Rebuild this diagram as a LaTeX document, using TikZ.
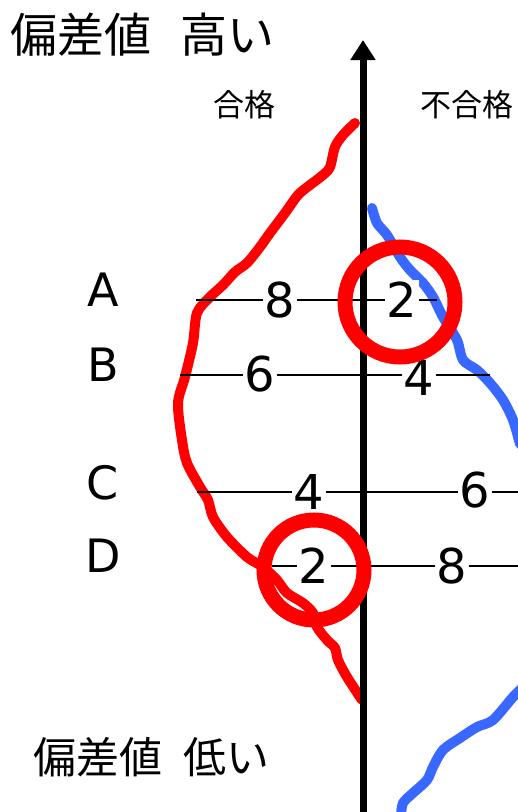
\documentclass[tikz,border=0pt]{standalone}
\usepackage{fontspec}
\setmainfont{DejaVu Sans}
\newfontfamily\jpfont{Noto Sans CJK JP}
\usetikzlibrary{arrows.meta}

\definecolor{penred}{RGB}{255,0,0}
\definecolor{penblue}{RGB}{56,104,255}

\tikzset{
  redpen/.style={penred, line width=10pt, line cap=round, line join=round},
  bluepen/.style={penblue, line width=10pt, line cap=round, line join=round},
  rowline/.style={line width=1.5pt},
  digit/.style={fill=white, inner sep=2pt, font=\fontsize{48}{48}\selectfont},
  rowlabel/.style={inner sep=0pt, font=\fontsize{46}{46}\selectfont},
  hitcircle/.style={draw=penred, line width=15pt},
}

\begin{document}
\begin{tikzpicture}[x=1pt, y=-1pt]
    \useasboundingbox (0,0) rectangle (518,812);

    % Titres
    \node[anchor=west, inner sep=0pt, font=\jpfont\fontsize{47}{47}\selectfont] (high) at (10,35) {偏差値\hspace{0.62em}高い};
    \node[anchor=west, inner sep=0pt, font=\jpfont\fontsize{43}{43}\selectfont] (low) at (33,757) {偏差値\hspace{0.5em}低い};
    \node[font=\jpfont\fontsize{31}{31}\selectfont] (pass) at (244,105) {合格};
    \node[font=\jpfont\fontsize{31}{31}\selectfont] (fail) at (467,105) {不合格};

    % Courbe rouge (合格)
    \draw[redpen] plot[smooth, tension=0.5] coordinates {
      (355,123) (343,135) (335,147) (330,167) (323,175) (310,185) (298,195)
      (285,213) (270,233) (260,247) (247,263) (235,272) (223,285) (210,297)
      (197,313) (193,343) (185,377) (178,403) (182,440) (187,463) (200,487)
      (208,500) (213,517) (227,537) (247,557) (263,567) (277,580) (287,593)
      (303,603) (313,613) (317,627) (327,640) (335,648) (338,660) (347,677)
      (362,700)};

    % Courbes bleues (不合格)
    \draw[bluepen] plot[smooth, tension=0.5] coordinates {
      (372,208) (377,223) (387,235) (400,257) (410,270) (423,283) (433,297)
      (443,317) (457,340) (463,360) (477,370) (490,383) (503,400) (513,420)
      (520,444)};
    \draw[bluepen] plot[smooth, tension=0.5] coordinates {
      (522,688) (513,697) (493,720) (477,727) (460,738) (443,750) (433,767)
      (427,780) (413,793) (403,803) (401,816)};

    % Axe
    \coordinate (axisbot) at (363,812);
    \coordinate (axistop) at (363,40);
    \draw[line width=7pt, -{Triangle[width=24pt, length=20pt]}] (axisbot) -- (axistop);

    % Lignes A-D
    \coordinate (Al) at (196,300); \coordinate (Ar) at (437,300);
    \coordinate (Bl) at (180,375); \coordinate (Br) at (490,375);
    \coordinate (Cl) at (197,492); \coordinate (Cr) at (518,492);
    \coordinate (Dl) at (272,566); \coordinate (Dr) at (518,566);
    \draw[rowline] (Al) -- (Ar);
    \draw[rowline] (Bl) -- (Br);
    \draw[rowline] (Cl) -- (Cr);
    \draw[rowline] (Dl) -- (Dr);

    \node[rowlabel] (A) at (103,290) {A};
    \node[rowlabel] (B) at (103,365) {B};
    \node[rowlabel] (C) at (103,483) {C};
    \node[rowlabel] (D) at (103,556) {D};

    \node[digit] (A-pass) at (280,300) {8};
    \node[digit] (A-fail) at (402,300) {2};
    \node[digit] (B-pass) at (260,374) {6};
    \node[digit] (B-fail) at (419,378) {4};
    \node[digit] (C-pass) at (309,492) {4};
    \node[digit] (C-fail) at (475,490) {6};
    \node[digit] (D-pass) at (314,566) {2};
    \node[digit] (D-fail) at (452,566) {8};

    % Cercles
    \draw[hitcircle] (400,302) circle (55);
    \draw[hitcircle] (314,570) circle (50);

\end{tikzpicture}
\end{document}
